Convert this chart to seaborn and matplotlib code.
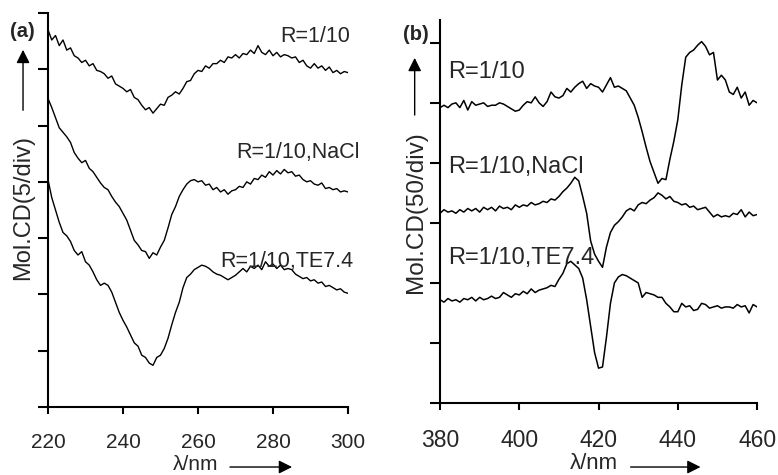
import numpy as np
import pandas as pd
import seaborn as sns
import matplotlib.pyplot as plt

# wavelength grids (nm)
wl_a = np.arange(220, 301)
wl_b = np.arange(380, 461)

# panel (a): Mol.CD, 5 per division (curves offset)
a_free = [33.5, 32.6, 33.0, 32.1, 32.6, 31.7, 31.9, 31.2, 31.0, 30.6,
          30.8, 30.3, 30.5, 29.9, 29.8, 29.6, 29.2, 29.4, 28.7, 28.5,
          28.3, 28.0, 28.2, 27.5, 27.3, 26.8, 26.4, 26.6, 26.1, 26.5,
          26.9, 26.8, 27.5, 27.7, 28.0, 27.8, 28.3, 28.9, 29.0, 29.6,
          29.9, 29.8, 30.3, 30.1, 30.5, 30.5, 30.8, 30.6, 31.1, 31.0,
          31.3, 31.0, 31.4, 31.3, 31.7, 31.4, 32.1, 31.5, 31.3, 31.7,
          31.2, 31.5, 31.1, 31.3, 31.2, 31.0, 31.1, 30.6, 30.8, 30.3,
          30.1, 30.5, 30.1, 30.3, 29.9, 30.2, 29.7, 29.9, 29.6, 29.8, 29.7]
a_nacl = [27.4, 26.6, 25.7, 24.8, 24.4, 24.0, 23.5, 22.6, 22.1, 21.7,
          21.9, 21.2, 20.9, 20.4, 19.9, 19.5, 19.3, 18.7, 18.2, 17.8,
          17.2, 16.6, 15.7, 14.8, 14.4, 13.9, 13.8, 13.2, 13.7, 13.5,
          14.2, 14.8, 15.9, 17.1, 17.8, 18.7, 19.3, 19.8, 20.1, 20.2,
          20.0, 20.1, 19.7, 19.8, 19.3, 19.5, 19.1, 19.3, 18.9, 19.2,
          19.3, 19.6, 19.5, 20.0, 19.8, 20.3, 20.2, 20.6, 20.4, 20.9,
          20.6, 21.0, 20.7, 21.1, 20.8, 20.9, 20.5, 20.6, 20.2, 20.0,
          20.1, 19.8, 19.7, 19.9, 19.4, 19.5, 19.3, 19.4, 19.1, 19.2, 19.1]
a_te = [20.2, 18.6, 17.5, 16.4, 15.5, 15.2, 14.7, 13.9, 13.5, 13.8,
        12.9, 12.6, 12.0, 11.3, 10.8, 11.0, 10.8, 10.2, 9.3, 8.4,
        7.7, 7.1, 6.4, 5.7, 5.4, 4.6, 4.4, 3.9, 3.7, 4.4,
        4.6, 5.2, 6.1, 7.3, 8.4, 9.3, 10.6, 11.5, 11.8, 12.2,
        12.4, 12.6, 12.5, 12.3, 12.0, 11.8, 11.7, 11.5, 11.3, 11.5,
        11.7, 12.0, 12.3, 12.0, 12.5, 12.3, 12.6, 12.2, 12.9, 12.5,
        12.7, 12.3, 12.6, 12.2, 12.3, 12.2, 11.8, 11.6, 11.4, 11.5,
        11.2, 11.3, 11.0, 11.1, 10.7, 10.8, 10.6, 10.4, 10.5, 10.2, 10.1]

# panel (b): Mol.CD, 50 per division (curves offset)
b_free = [246, 248, 246, 249, 250, 246, 252, 244, 251, 248,
          249, 250, 247, 248, 248, 250, 249, 247, 245, 243,
          244, 248, 251, 250, 255, 250, 247, 251, 259, 255,
          254, 256, 262, 259, 263, 266, 268, 262, 266, 264,
          263, 259, 265, 271, 263, 264, 262, 260, 254, 248,
          238, 226, 213, 201, 192, 183, 187, 186, 203, 218,
          236, 265, 288, 292, 294, 298, 301, 297, 290, 292,
          269, 273, 269, 259, 257, 263, 254, 259, 248, 252, 250]
b_nacl = [158, 161, 159, 160, 158, 161, 159, 162, 160, 162,
          159, 163, 161, 163, 160, 164, 162, 163, 161, 165,
          163, 165, 164, 167, 165, 166, 168, 167, 170, 169,
          172, 176, 179, 183, 188, 185, 172, 158, 135, 124,
          118, 113, 130, 142, 148, 151, 155, 160, 162, 160,
          165, 167, 166, 169, 171, 175, 173, 170, 172, 168,
          167, 165, 166, 163, 164, 161, 162, 163, 159, 155,
          157, 155, 156, 155, 158, 157, 161, 155, 159, 156, 157]
b_te = [86, 84, 87, 85, 86, 84, 87, 86, 88, 85,
        88, 86, 87, 89, 87, 88, 92, 90, 88, 91,
        90, 93, 91, 95, 92, 94, 95, 96, 98, 97,
        103, 108, 116, 118, 115, 112, 104, 86, 64, 42,
        29, 30, 55, 83, 100, 105, 107, 106, 104, 102,
        100, 88, 92, 91, 90, 88, 88, 83, 80, 76,
        76, 83, 80, 81, 77, 78, 83, 82, 79, 80,
        81, 79, 80, 80, 79, 82, 80, 81, 75, 82, 80]

labels = ["R=1/10", "R=1/10,NaCl", "R=1/10,TE7.4"]

sns.set_style("ticks")
plt.rcParams['font.family'] = ['Liberation Sans', 'DejaVu Sans']

fig = plt.figure(figsize=(7.78, 4.75), dpi=100)
ax_a = fig.add_axes([0.0617, 0.1432, 0.3856, 0.8295])
ax_b = fig.add_axes([0.5656, 0.1516, 0.4075, 0.8063])

for y in (a_free, a_nacl, a_te):
    sns.lineplot(x=wl_a, y=y, ax=ax_a, color='black', lw=1.0)
for y in (b_free, b_nacl, b_te):
    sns.lineplot(x=wl_b, y=y, ax=ax_b, color='black', lw=1.1)

ax_a.set_xlim(220, 300)
ax_a.set_ylim(0, 35)
ax_a.set_xticks([220, 240, 260, 280, 300])
ax_a.set_yticks(np.arange(0, 36, 5))

ax_b.set_xlim(380, 460)
ax_b.set_ylim(0, 319)
ax_b.set_xticks([380, 400, 420, 440, 460])
ax_b.set_yticks(np.arange(0, 301, 50))

for ax, pad, size in ((ax_a, 14, 15), (ax_b, 14, 16.5)):
    ax.set_yticklabels([])
    ax.set_xlabel('')
    ax.set_ylabel('')
    sns.despine(ax=ax)
    for s in ('left', 'bottom'):
        ax.spines[s].set_linewidth(1.5)
        ax.spines[s].set_color('black')
    ax.tick_params(axis='y', direction='out', length=7, width=1.5, color='black')
    ax.tick_params(axis='x', direction='out', length=5, width=1.5, color='black',
                   labelsize=size, pad=pad)

# curve labels
fig.text(0.450, 0.912, labels[0], ha='right', fontsize=15.5)
fig.text(0.463, 0.667, labels[1], ha='right', fontsize=15.5)
fig.text(0.454, 0.438, labels[2], ha='right', fontsize=15.5)
fig.text(0.576, 0.836, labels[0], ha='left', fontsize=17)
fig.text(0.576, 0.636, labels[1], ha='left', fontsize=17)
fig.text(0.576, 0.444, labels[2], ha='left', fontsize=17)

# panel tags
fig.text(0.013, 0.922, "(a)", fontsize=14.5, fontweight='bold')
fig.text(0.518, 0.916, "(b)", fontsize=14.5, fontweight='bold')

# axis titles with arrows
fig.text(0.0296, 0.564, "Mol.CD(5/div)", rotation=90, ha='center', va='center', fontsize=17)
fig.text(0.535, 0.554, "Mol.CD(50/div)", rotation=90, ha='center', va='center', fontsize=17.5)
fig.text(0.252, 0.003, "λ/nm", ha='center', va='bottom', fontsize=15)
fig.text(0.763, 0.003, "λ/nm", ha='center', va='bottom', fontsize=16)

arrow = dict(arrowstyle='-|>', color='black', lw=1.0, mutation_scale=20)
fig.add_artist(plt.Annotation('', xy=(0.0296, 0.901), xytext=(0.0296, 0.762),
                              xycoords='figure fraction', arrowprops=arrow))
fig.add_artist(plt.Annotation('', xy=(0.533, 0.884), xytext=(0.533, 0.752),
                              xycoords='figure fraction', arrowprops=arrow))
fig.add_artist(plt.Annotation('', xy=(0.379, 0.0168), xytext=(0.292, 0.0168),
                              xycoords='figure fraction', arrowprops=arrow))
fig.add_artist(plt.Annotation('', xy=(0.904, 0.0168), xytext=(0.807, 0.0168),
                              xycoords='figure fraction', arrowprops=arrow))

fig.savefig('out.png', dpi=100)
